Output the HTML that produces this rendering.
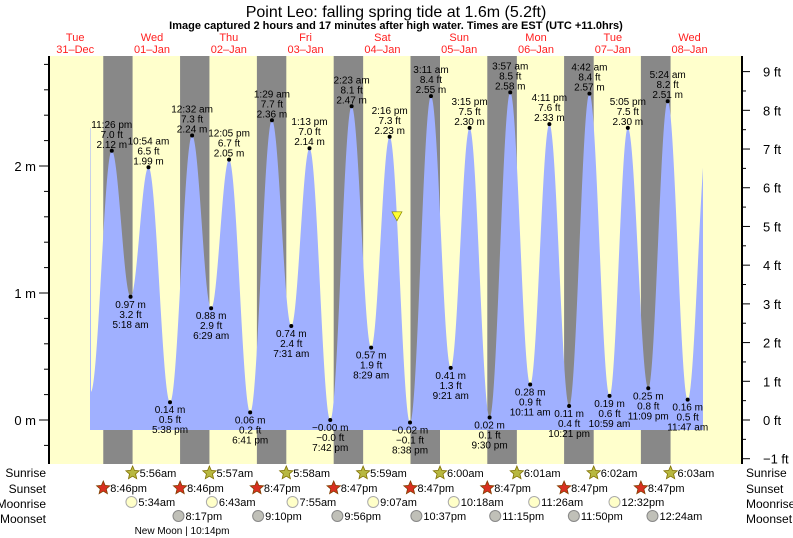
<!DOCTYPE html>
<html><head><meta charset="utf-8"><style>
html,body{margin:0;padding:0;background:#fff;}
svg{display:block;font-family:"Liberation Sans",sans-serif;}
</style></head><body>
<svg id="chart" width="793" height="538" viewBox="0 0 793 538" xmlns="http://www.w3.org/2000/svg">
<text x="396" y="17" text-anchor="middle" font-size="16">Point Leo: falling  spring tide at 1.6m (5.2ft)</text>
<text x="396" y="29" text-anchor="middle" font-size="11" font-weight="bold">Image captured 2 hours and 17 minutes after high water. Times are EST (UTC +11.0hrs)</text>
<g id="g"></g>
</svg>
<script>
// hours relative to Jan 1 00:00, heights in metres
const tideHours = [-7.17,-0.57,5.3,10.9,17.63,24.53,30.48,36.08,42.68,49.48,55.52,61.22,67.7,74.38,80.48,86.27,92.63,99.18,105.35,111.25,117.5,123.95,130.18,136.18,142.35,148.7,154.98,160.7,167.08,173.15,179.4,185.78];
const tideHeights = [0.22,2.12,0.97,1.99,0.14,2.24,0.88,2.05,0.06,2.36,0.74,2.14,-0.00,2.47,0.57,2.23,-0.02,2.55,0.41,2.30,0.02,2.58,0.28,2.33,0.11,2.57,0.19,2.30,0.25,2.51,0.16,2.30];
const tideTimes = ["","11:26 pm","5:18 am","10:54 am","5:38 pm","12:32 am","6:29 am","12:05 pm","6:41 pm","1:29 am","7:31 am","1:13 pm","7:42 pm","2:23 am","8:29 am","2:16 pm","8:38 pm","3:11 am","9:21 am","3:15 pm","9:30 pm","3:57 am","10:11 am","4:11 pm","10:21 pm","4:42 am","10:59 am","5:05 pm","11:09 pm","5:24 am","11:47 am",""];
const tideFeet = ["","7.0","3.2","6.5","0.5","7.3","2.9","6.7","0.2","7.7","2.4","7.0","−0.0","8.1","1.9","7.3","−0.1","8.4","1.3","7.5","0.1","8.5","0.9","7.6","0.4","8.4","0.6","7.5","0.8","8.2","0.5",""];
const dayNames = ["Tue","Wed","Thu","Fri","Sat","Sun","Mon","Tue","Wed"];
const dayDates = ["31\u2013Dec","01\u2013Jan","02\u2013Jan","03\u2013Jan","04\u2013Jan","05\u2013Jan","06\u2013Jan","07\u2013Jan","08\u2013Jan"];
const sunriseLabels = ["5:56am","5:57am","5:58am","5:59am","6:00am","6:01am","6:02am","6:03am"];
const sunriseHours = [5.93,29.95,53.97,77.98,102.0,126.02,150.03,174.05];
const sunsetLabels = ["8:46pm","8:46pm","8:47pm","8:47pm","8:47pm","8:47pm","8:47pm","8:47pm"];
const sunsetHours = [-3.23,20.77,44.78,68.78,92.78,116.78,140.78,164.78];
const moonriseLabels = ["5:34am","6:43am","7:55am","9:07am","10:18am","11:26am","12:32pm"];
const moonriseHours = [5.57,30.72,55.92,81.12,106.3,131.43,156.53];
const moonsetLabels = ["8:17pm","9:10pm","9:56pm","10:37pm","11:15pm","11:50pm","12:24am"];
const moonsetHours = [20.28,45.17,69.93,94.62,119.25,143.83,168.4];
const nowHour = 88.55, nowHeight = 1.6;

const X0=49, X1=742, Y0=56, Y1=464, FILLBASE=430, FILLSTART=90, FILLEND=703;
const xs = h => 113.6 + h*3.2;
const ys = m => 420 - m*127;
const NS="http://www.w3.org/2000/svg";
const g=document.getElementById('g');
function el(tag,attrs,parent){const e=document.createElementNS(NS,tag);for(const k in attrs)e.setAttribute(k,attrs[k]);(parent||g).appendChild(e);return e;}
function txt(x,y,s,size,anchor,fill){const t=el('text',{x:x,y:y,'font-size':size,'text-anchor':anchor||'middle',fill:fill||'#000'});t.textContent=s;return t;}

// plot background
let bg=el('rect',{x:X0,y:Y0,width:X1-X0,height:Y1-Y0,fill:'#ffffcc'});


// night bands
for(let i=0;i<sunsetHours.length;i++){
  const a=Math.max(X0,xs(sunsetHours[i])), b=Math.min(X1,xs(sunriseHours[i]));
  const r=el('rect',{x:a,y:Y0,width:b-a,height:Y1-Y0,fill:'#888888'});
  
  
}
// tide curve
function heightAt(h){
  for(let i=0;i<tideHours.length-1;i++){
    if(h>=tideHours[i]&&h<=tideHours[i+1]){
      const f=(h-tideHours[i])/(tideHours[i+1]-tideHours[i]);
      return tideHeights[i]+(tideHeights[i+1]-tideHeights[i])*(1-Math.cos(Math.PI*f))/2;
    }
  }
  return tideHeights[tideHeights.length-1];
}
let d='M'+FILLSTART+','+FILLBASE;
for(let x=FILLSTART;x<=FILLEND;x+=0.5){d+=' L'+x+','+ys(heightAt((x-113.6)/3.2)).toFixed(1);}
d+=' L'+FILLEND+','+FILLBASE+' Z';
let area=el('path',{d:d,fill:'#a0b0ff'});


// extremes
for(let i=1;i<tideHours.length-1;i++){
  const x=xs(tideHours[i]), y=ys(tideHeights[i]);
  const high=tideHeights[i]>tideHeights[i-1];
  const dot=el('circle',{cx:x,cy:y,r:2,fill:'#000'});
  
  
  const ms=(tideHeights[i]<0||(tideHeights[i]===0&&tideFeet[i][0]=='−')?'−':'')+Math.abs(tideHeights[i]).toFixed(2)+' m';
  const lines=high?[tideTimes[i],tideFeet[i]+' ft',ms]:[ms,tideFeet[i]+' ft',tideTimes[i]];
  const base=high?y-23:y+11;
  lines.forEach((s,k)=>{const t=txt(x,base+k*10,s,10);
    
    });
}
// now marker
let tri=el('path',{d:`M${xs(nowHour)-5},${ys(nowHeight)-5} L${xs(nowHour)+5},${ys(nowHeight)-5} L${xs(nowHour)},${ys(nowHeight)+4} Z`,fill:'#ffff33',stroke:'#888800','stroke-width':0.7});


// axes
let la=el('line',{x1:X0,y1:Y0,x2:X0,y2:Y1,stroke:'#000','stroke-width':2});


let ra=el('line',{x1:X1,y1:Y0,x2:X1,y2:Y1,stroke:'#000','stroke-width':2});


for(let k=-1;k<=14;k++){
  const m=k*0.2, y=ys(m); if(y<Y0||y>Y1)continue;
  const tk=el('line',{x1:X0-(k%5==0?10:5),y1:y,x2:X0,y2:y,stroke:'#000'});
  
  
  if(k%5==0){const t=txt(36,y+5,(m.toFixed(0))+' m',13,'end');
    
    }
}
for(let k=-2;k<=18;k++){
  const f=k*0.5, y=ys(f*0.3048); if(y<Y0-1||y>Y1+1)continue;
  const tk=el('line',{x1:X1,y1:y,x2:X1+(k%2==0?8:4),y2:y,stroke:'#000'});
  
  
  if(k%2==0){const t=txt(763,y+5,(f<0?'\u2212'+(-f):f)+' ft',13,'start');
    
    }
}
// day labels
for(let i=0;i<dayNames.length;i++){
  const x=xs(-12+24*i);
  const a=txt(x,41,dayNames[i],11,'middle','#ff2020');
  
  
  const b=txt(x,53,dayDates[i],11,'middle','#ff2020');
  
  
}
// bottom rows
const rows=[['Sunrise',477],['Sunset',493],['Moonrise',508],['Moonset',523]];
rows.forEach(r=>{
  const a=txt(46,r[1],r[0],12,'end');
  
  
  const b=txt(746,r[1],r[0],12,'start');
  
  
});
function star(cx,cy,fill,stroke){
  let p='';for(let k=0;k<10;k++){const rr=k%2?3.2:7,a=-Math.PI/2+k*Math.PI/5;p+=(k?'L':'M')+(cx+rr*Math.cos(a)).toFixed(1)+','+(cy+rr*Math.sin(a)).toFixed(1);}
  return el('path',{d:p+'Z',fill:fill,stroke:stroke,'stroke-width':0.8});
}
sunriseHours.forEach((h,i)=>{const x=xs(h);const s=star(x,473,'#b8b840','#807000');
  
  
  const t=txt(x+7,477,sunriseLabels[i],11,'start');
  
  });
sunsetHours.forEach((h,i)=>{const x=xs(h);const s=star(x,488,'#d83020','#804000');
  
  
  const t=txt(x+7,492,sunsetLabels[i],11,'start');
  
  });
moonriseHours.forEach((h,i)=>{const x=xs(h);const c=el('circle',{cx:x,cy:502,r:5.5,fill:'#ffffc8',stroke:'#aaa'});
  
  
  const t=txt(x+7,506,moonriseLabels[i],11,'start');
  
  });
moonsetHours.forEach((h,i)=>{const x=xs(h);const c=el('circle',{cx:x,cy:516,r:5.5,fill:'#c0c0b8',stroke:'#888'});
  
  
  const t=txt(x+7,520,moonsetLabels[i],11,'start');
  
  });
const nm=txt(182,534,'New Moon | 10:14pm',10);


</script>
</body></html>
